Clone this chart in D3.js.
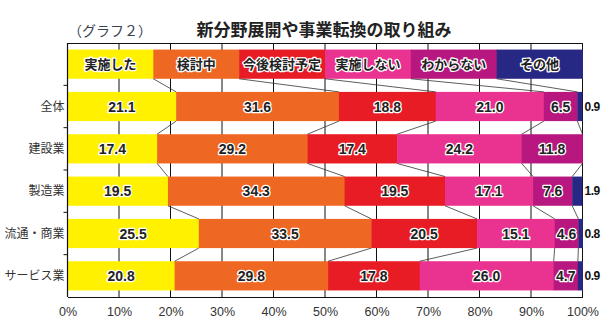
<!DOCTYPE html>
<html lang="ja">
<head>
<meta charset="UTF-8">
<title>新分野展開や事業転換の取り組み</title>
<script src="https://d3js.org/d3.v7.min.js"></script>
<style>
    body { margin: 0; background: #fff; }
    .jp { font-family: "Noto Sans CJK JP", sans-serif; }
    .num { font-family: "Liberation Sans", Arial, sans-serif; font-weight: bold; }
    .halo { paint-order: stroke; stroke: #fff; stroke-width: 2.6px; stroke-linejoin: round; }
</style>
</head>
<body>
<svg id="chart" width="610" height="330"></svg>
<script>
    // categories (rows) and answer groups (segments)
    const categories = ["全体", "建設業", "製造業", "流通・商業", "サービス業"];
    const groups = ["実施した", "検討中", "今後検討予定", "実施しない", "わからない", "その他"];
    const colors = ["#fff100", "#ee6723", "#e81c24", "#ea3290", "#b7177f", "#272884"];

    // percent values per group, in category order
    const done      = [21.1, 17.4, 19.5, 25.5, 20.8];
    const reviewing = [31.6, 29.2, 34.3, 33.5, 29.8];
    const planned   = [18.8, 17.4, 19.5, 20.5, 17.8];
    const notDoing  = [21.0, 24.2, 17.1, 15.1, 26.0];
    const unknown   = [6.5, 11.8, 7.6, 4.6, 4.7];
    const other     = [0.9, 0, 1.9, 0.8, 0.9];

    const xTicks = [0, 10, 20, 30, 40, 50, 60, 70, 80, 90, 100];

    const series = [done, reviewing, planned, notDoing, unknown, other];

    const svg = d3.select("#chart");
    const plotL = 67.5, plotR = 582.5, plotT = 43, plotB = 297;

    const x = d3.scaleLinear().domain([0, 100]).range([plotL, plotR]);
    const rows = ["legend", ...categories];
    const y = d3.scaleBand().domain(rows).range([plotT, plotB])
        .paddingInner(0.31).paddingOuter(0.155);
    const gap = y.step() - y.bandwidth();

    // stacked rows
    const stackData = categories.map((c, i) => {
        let acc = 0;
        const segs = series.map((s, g) => {
            const seg = { cat: c, g: g, v: s[i], x0: acc, x1: acc + s[i] };
            acc += s[i];
            return seg;
        });
        return { cat: c, segs: segs };
    });

    // title
    svg.append("text").attr("class", "jp")
        .attr("x", 68).attr("y", 36)
        .attr("font-size", 14).attr("fill", "#3a4150")
        .text("（グラフ２）");
    svg.append("text").attr("class", "jp")
        .attr("x", 324).attr("y", 36).attr("text-anchor", "middle")
        .attr("font-size", 17).attr("font-weight", "bold").attr("fill", "#222")
        .text("新分野展開や事業転換の取り組み");

    // gridlines
    svg.append("g").selectAll("line").data(xTicks).join("line")
        .attr("x1", d => x(d)).attr("x2", d => x(d))
        .attr("y1", plotT).attr("y2", plotB)
        .attr("stroke", "#111").attr("stroke-width", 1);
    svg.append("line")
        .attr("x1", plotL).attr("x2", plotR).attr("y1", plotT + 0.5).attr("y2", plotT + 0.5)
        .attr("stroke", "#111");

    // legend row (equal-width boxes)
    const lw = (plotR - plotL) / groups.length;
    const ly = y("legend");
    const leg = svg.append("g");
    leg.selectAll("rect").data(groups).join("rect")
        .attr("x", (d, i) => plotL + i * lw).attr("y", ly)
        .attr("width", lw + 0.5).attr("height", y.bandwidth())
        .attr("fill", (d, i) => colors[i]);
    leg.selectAll("text").data(groups).join("text")
        .attr("class", "jp halo")
        .attr("x", (d, i) => plotL + i * lw + lw / 2)
        .attr("y", ly + y.bandwidth() / 2)
        .attr("dy", "0.36em").attr("text-anchor", "middle")
        .attr("font-size", 13).attr("font-weight", "bold").attr("fill", "#222")
        .text(d => d);

    // bars
    const rowG = svg.append("g").selectAll("g").data(stackData).join("g");
    rowG.selectAll("rect").data(d => d.segs.filter(s => s.v > 0)).join("rect")
        .attr("x", d => x(d.x0)).attr("y", d => y(d.cat))
        .attr("width", d => x(d.x1) - x(d.x0) + 0.4)
        .attr("height", y.bandwidth())
        .attr("fill", d => colors[d.g]);

    // connector lines between rows
    const conn = [];
    for (let g = 1; g < groups.length; g++) {
        conn.push({ x1: plotL + g * lw, y1: ly + y.bandwidth(),
                    x2: x(stackData[0].segs[g].x0), y2: y(categories[0]) });
        for (let i = 0; i < categories.length - 1; i++) {
            conn.push({ x1: x(stackData[i].segs[g].x0), y1: y(categories[i]) + y.bandwidth(),
                        x2: x(stackData[i + 1].segs[g].x0), y2: y(categories[i + 1]) });
        }
    }
    svg.append("g").selectAll("line").data(conn).join("line")
        .attr("x1", d => d.x1).attr("y1", d => d.y1)
        .attr("x2", d => d.x2).attr("y2", d => d.y2)
        .attr("stroke", "#333").attr("stroke-width", 0.8);

    // value labels inside bars
    rowG.selectAll("text.v").data(d => d.segs.filter(s => s.g < 5)).join("text")
        .attr("class", "v num halo")
        .attr("x", d => (x(d.x0) + x(d.x1)) / 2)
        .attr("y", d => y(d.cat) + y.bandwidth() / 2)
        .attr("dy", "0.36em").attr("text-anchor", "middle")
        .attr("font-size", 14).attr("fill", "#222")
        .text(d => d.v.toFixed(1));

    // "other" labels outside right
    rowG.selectAll("text.o").data(d => d.segs.filter(s => s.g === 5 && s.v > 0)).join("text")
        .attr("class", "o num")
        .attr("x", plotR + 2)
        .attr("y", d => y(d.cat) + y.bandwidth() / 2)
        .attr("dy", "0.36em")
        .attr("font-size", 12).attr("fill", "#111")
        .attr("letter-spacing", "-0.5")
        .text(d => d.v.toFixed(1));

    // left axis with ticks at row boundaries
    const yAxis = svg.append("g");
    yAxis.append("line")
        .attr("x1", plotL).attr("x2", plotL).attr("y1", plotT).attr("y2", plotB)
        .attr("stroke", "#111").attr("stroke-width", 1.2);
    yAxis.selectAll("line.t").data(rows.slice(1)).join("line")
        .attr("class", "t")
        .attr("x1", plotL - 4).attr("x2", plotL)
        .attr("y1", d => y(d) - gap / 2).attr("y2", d => y(d) - gap / 2)
        .attr("stroke", "#111");
    yAxis.selectAll("text").data(categories).join("text")
        .attr("class", "jp")
        .attr("x", plotL - 3).attr("y", d => y(d) + y.bandwidth() / 2)
        .attr("dy", "0.36em").attr("text-anchor", "end")
        .attr("font-size", 12).attr("fill", "#333")
        .text(d => d);

    // bottom axis
    const xAxis = svg.append("g").attr("transform", `translate(0,${plotB})`)
        .call(d3.axisBottom(x).tickValues(xTicks).tickSize(0).tickPadding(10)
            .tickFormat(d => d + "%"));
    xAxis.select(".domain").attr("stroke", "#111").attr("stroke-width", 1.2);
    xAxis.selectAll("text")
        .attr("font-family", "'Liberation Sans', Arial, sans-serif")
        .attr("font-size", 12.5).attr("fill", "#333");
</script>
</body>
</html>
